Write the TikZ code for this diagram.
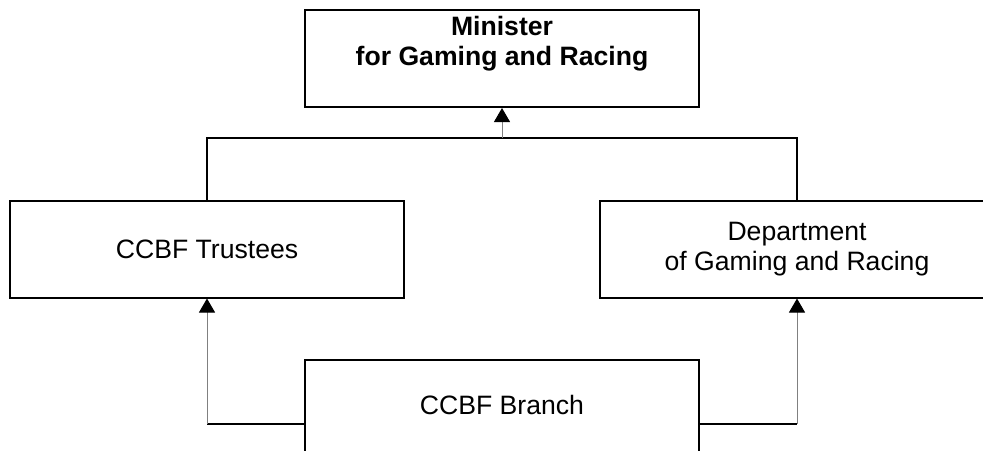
\documentclass[tikz,border=0pt]{standalone}
\usepackage{fontspec}
\setmainfont{Liberation Sans}
\usetikzlibrary{positioning}
\usetikzlibrary{arrows.meta}

\begin{document}
\begin{tikzpicture}[x=0.5pt,y=-0.5pt,
    orgbox/.style={draw,line width=1pt,minimum width=197pt,minimum height=48.5pt,
        align=center,font=\fontsize{13.3}{15}\selectfont},
    orgtext/.style={align=center,font=\fontsize{13.3}{15}\selectfont},
    link/.style={line width=1pt},
    feed/.style={draw=gray,line width=0.5pt,-{Triangle[width=8pt,length=7pt,color=black]}}]
    \useasboundingbox (0,0) rectangle (983,450);
    \clip (0,0) rectangle (983,450);
    % boxes
    \node(minister) [orgbox] at (502,58.5) {};
    \node(ministerText) [orgtext,font=\bfseries\fontsize{13.3}{15}\selectfont] at (502,44) {Minister\\for Gaming and Racing};
    \node(trustees) [orgbox] at (207,249) {CCBF Trustees};
    \node(dept) [orgbox] at (797,249) {Department\\of Gaming and Racing};
    \node(branch) [orgbox,minimum height=64pt] at (502,424) {};
    \node(branchText) [orgtext] at (502,405) {CCBF Branch};
    % top links
    \coordinate (bus) at (502,138);
    \draw[link] (trustees.north) |- (bus) -| (dept.north);
    \draw[feed] (bus) -- (minister.south);
    % bottom links
    \draw[link] (branch.west) -- (branch.west -| trustees.south) coordinate (leftTap);
    \draw[feed] (leftTap) -- (trustees.south);
    \draw[link] (branch.east) -- (branch.east -| dept.south) coordinate (rightTap);
    \draw[feed] (rightTap) -- (dept.south);
\end{tikzpicture}
\end{document}
